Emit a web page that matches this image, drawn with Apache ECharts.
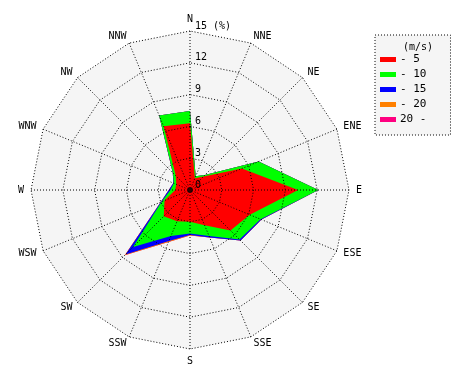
<!DOCTYPE html>
<html><head><meta charset="utf-8">
<script src="https://cdn.jsdelivr.net/npm/echarts@6/dist/echarts.min.js"></script>
<style>html,body{margin:0;padding:0;background:#fff}#c{width:470px;height:380px}</style>
</head><body><div id="c"></div>
<script>
// Directions, clockwise from north
const directions = ['N','NNE','NE','ENE','E','ESE','SE','SSE','S','SSW','SW','WSW','W','WNW','NW','NNW'];
// Cumulative frequencies (%) by wind speed class
const upTo5  = [6.3,1.2,1.8,5.3,10.2,6.1,5.4,3.6,3.0,3.2,3.5,2.6,1.4,1.4,1.9,6.5];
const upTo10 = [7.45,1.4,2.0,7.0,12.1,7.2,6.6,4.7,4.1,4.7,7.6,2.9,1.85,1.65,2.27,7.6];
const upTo15 = [7.45,1.4,2.0,7.0,12.1,7.3,6.75,4.85,4.25,5.2,8.6,3.0,2.0,1.7,2.3,7.6];
const upTo20 = [7.45,1.4,2.0,7.0,12.1,7.3,6.75,4.85,4.3,5.3,8.7,3.0,2.0,1.7,2.3,7.6];
const over20 = [7.45,1.4,2.0,7.0,12.1,7.3,6.75,4.85,4.3,5.3,8.7,3.0,2.0,1.7,2.3,7.6];
const classNames = ['- 5','- 10','- 15','- 20','20 -'];
const classColors = ['#ff0000','#00ff00','#0000ff','#ff8000','#ff0080'];
const radialTicks = [0,3,6,9,12,15];

const FONT = 'DejaVu Sans Mono';
const CENTER = [190,190], RADIUS = 159;
const DOT = {color:'#000', type:[1,2], width:1};
// ECharts radar runs counter-clockwise; reorder so directions go clockwise
const order = [0].concat(directions.map((d,i)=>i).slice(1).reverse());
const ind = order.map(i => ({name: directions[i], min: 0, max: radialTicks[radialTicks.length-1]}));
const re = arr => order.map(i => arr[i]);
const sets = [upTo5, upTo10, upTo15, upTo20, over20];

const series = [];
for (let k = sets.length-1; k >= 0; k--) {
  series.push({
    type:'radar', radarIndex:0, name: classNames[k], symbol:'none', z: 2,
    lineStyle:{width:0}, itemStyle:{color:classColors[k]},
    areaStyle:{color:classColors[k], opacity:1},
    data:[{value: re(sets[k]), name: classNames[k]}]
  });
}
series.push({type:'scatter', coordinateSystem:'polar', data:[[0,0]], symbolSize:5,
  itemStyle:{color:'#000'}, z:10, silent:true});

const chart = echarts.init(document.getElementById('c'), null, {renderer:'canvas'});
chart.setOption({
  animation:false,
  backgroundColor:'#fff',
  textStyle:{fontFamily:FONT},
  title:{text:'(m/s)', left:398, top:37, textStyle:{fontFamily:FONT, fontSize:10, fontWeight:'normal', color:'#000'}},
  legend:{
    data: classNames, orient:'vertical', left:375, top:35,
    padding:[19,24,10,5], itemGap:4, itemWidth:16, itemHeight:5, icon:'rect',
    backgroundColor:'#f5f5f5', borderColor:'#000', borderWidth:1, borderType:[1,2],
    textStyle:{fontFamily:FONT, fontSize:11, color:'#000', padding:[0,0,0,-1]},
    selectedMode:false
  },
  radar:[{
    center:CENTER, radius:RADIUS, shape:'polygon', startAngle:90, splitNumber:5, indicator:ind, z:1,
    axisName:{show:false},
    axisLine:{show:false}, splitLine:{show:false},
    splitArea:{show:true, areaStyle:{color:['#f5f5f5']}}
  },{
    center:CENTER, radius:RADIUS, shape:'polygon', startAngle:90, splitNumber:5, indicator:ind, z:3,
    nameGap:7,
    axisName:{color:'#000', fontFamily:FONT, fontSize:10},
    axisLine:{show:false},
    splitLine:{show:true, lineStyle:DOT},
    splitArea:{show:false}
  }],
  polar:{center:CENTER, radius:RADIUS},
  angleAxis:{type:'value', min:0, max:360, interval:22.5, startAngle:90, clockwise:true, z:3,
    axisLine:{show:false}, axisTick:{show:false}, axisLabel:{show:false},
    splitLine:{show:true, lineStyle:DOT}},
  radiusAxis:{type:'value', min:0, max:15, interval:3, z:4,
    axisLine:{show:false}, axisTick:{show:false}, splitLine:{show:false},
    axisLabel:{show:true, fontFamily:FONT, fontSize:10, color:'#000', align:'left', verticalAlign:'bottom', margin:-5,
      formatter: v => v === 15 ? '15 (%)' : String(v)}
  },
  series: series
});
</script></body></html>
